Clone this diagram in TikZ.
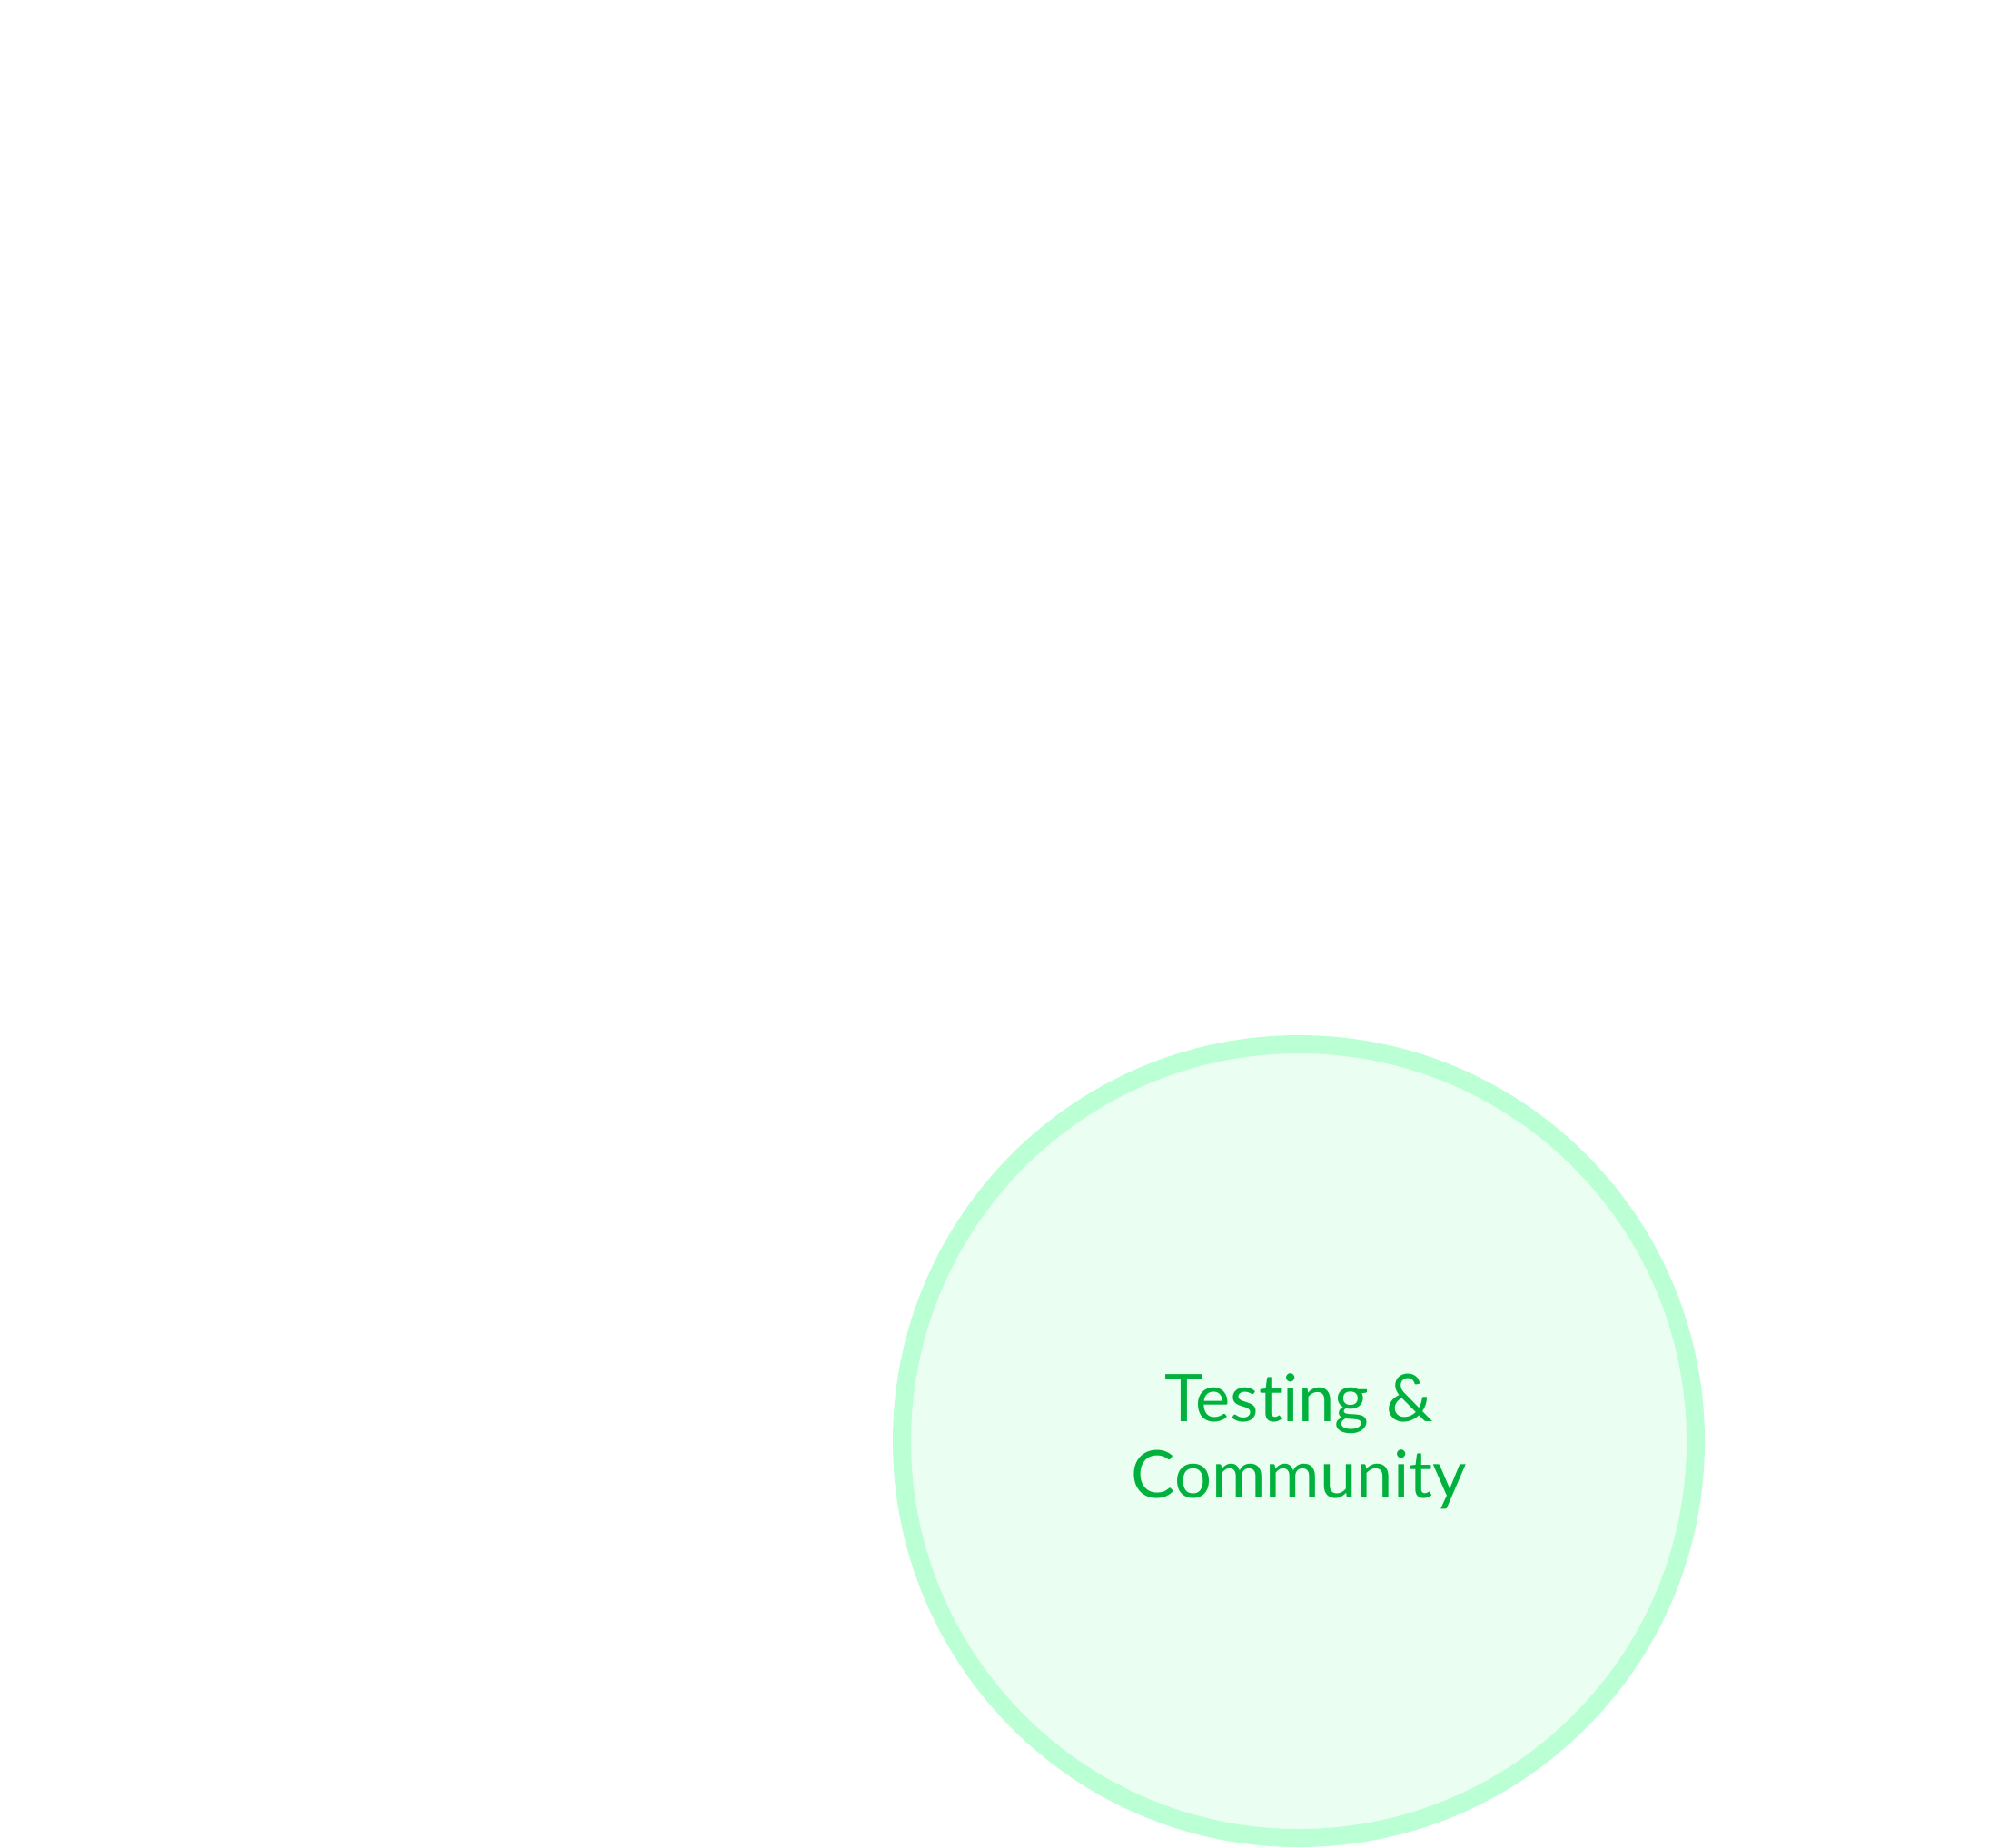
\documentclass[tikz,border=0pt]{standalone}
\usepackage{fontspec}
\setmainfont[Ligatures=NoCommon]{Lato}
\usepackage{xcolor}
\definecolor{ringgreen}{HTML}{BBFFD4}
\definecolor{fillgreen}{HTML}{EBFEF2}
\definecolor{textgreen}{HTML}{00B13D}
\tikzset{
  topic/.style={circle,draw=ringgreen,fill=fillgreen,line width=0.2cm,
    minimum size=8.74cm,inner sep=0pt,align=center,text=textgreen,
    font=\fontsize{20.6pt}{24pt}\selectfont},
}

\begin{document}
\begin{tikzpicture}
      \useasboundingbox (0,0) rectangle (22.12,20.34);
      \node[topic] (testing) at (14.30,4.47) {Testing \&\\Community};
    \end{tikzpicture}
\end{document}
